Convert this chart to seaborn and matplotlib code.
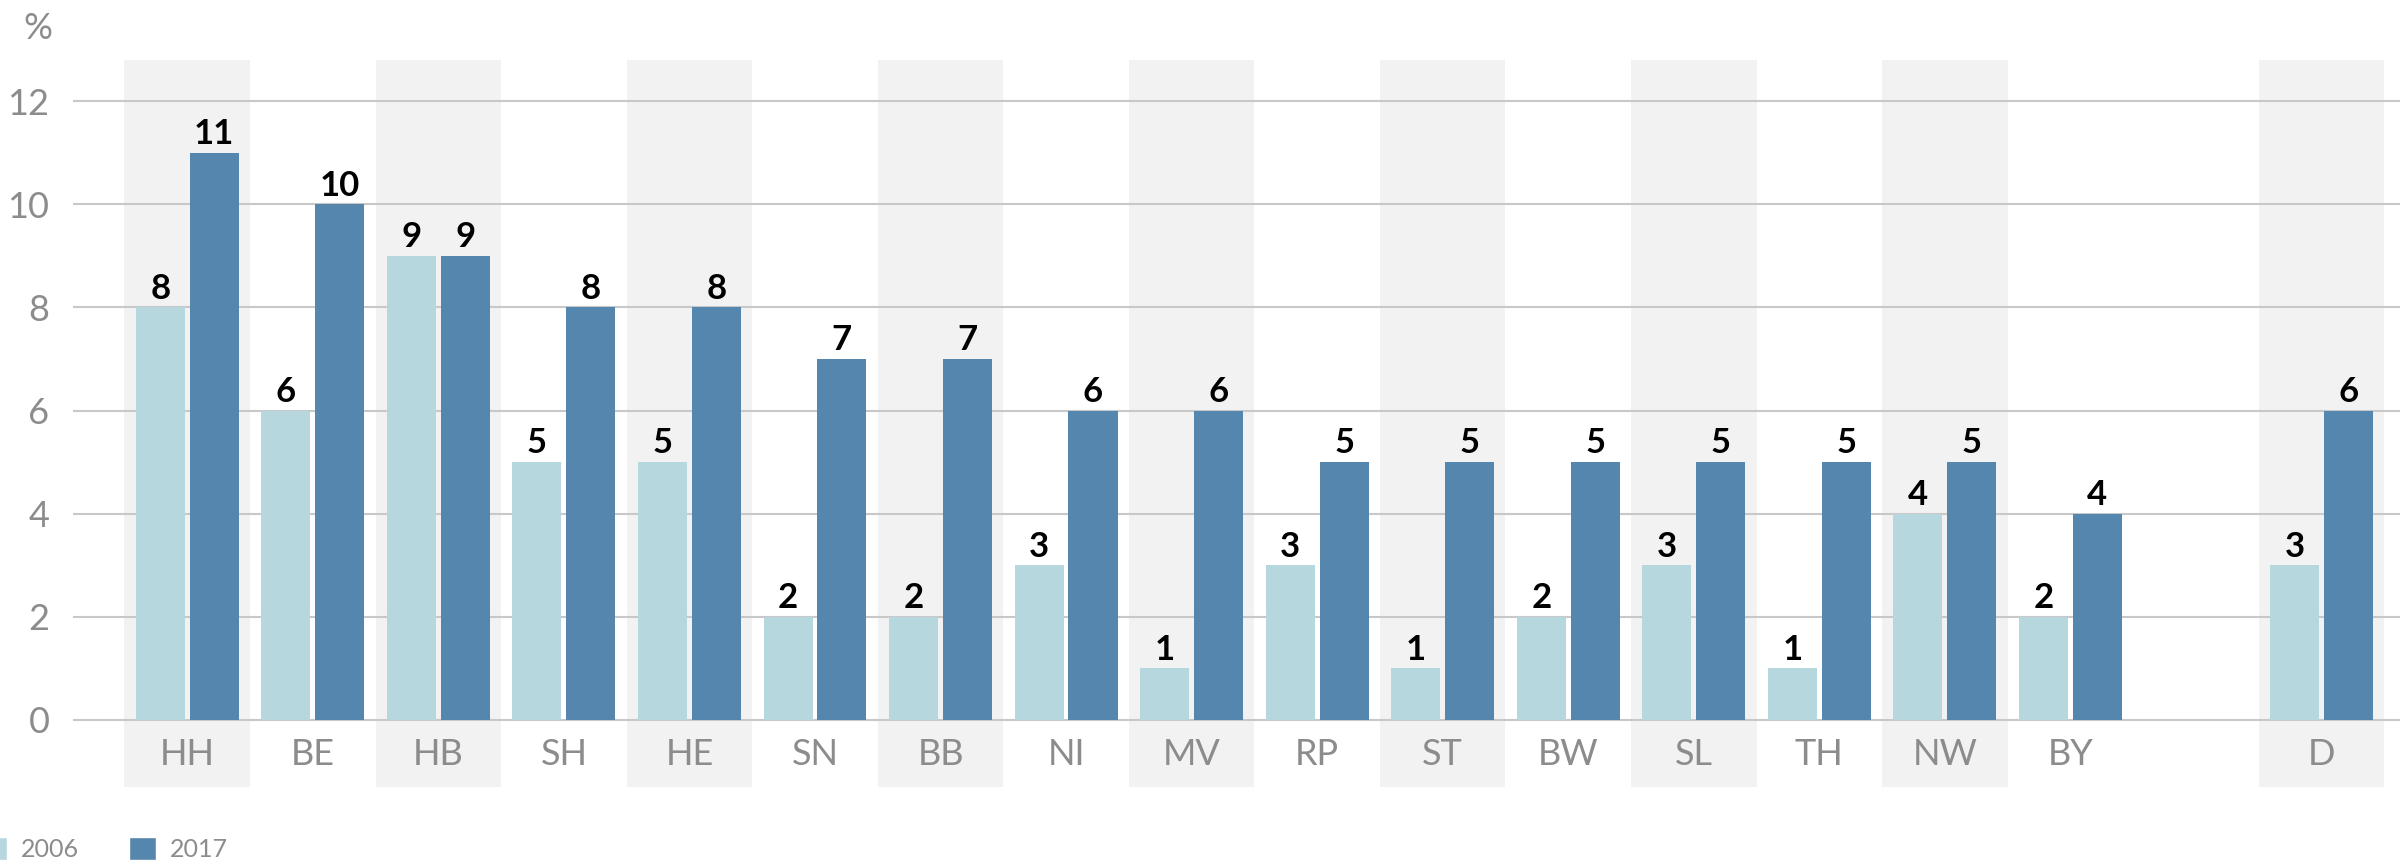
import matplotlib
matplotlib.use("Agg")
import matplotlib.pyplot as plt
import seaborn as sns
import pandas as pd
from matplotlib.patches import Patch

# Daten
laender = ["HH", "BE", "HB", "SH", "HE", "SN", "BB", "NI", "MV", "RP",
           "ST", "BW", "SL", "TH", "NW", "BY", "D"]
werte_2006 = [8, 6, 9, 5, 5, 2, 2, 3, 1, 3, 1, 2, 3, 1, 4, 2, 3]
werte_2017 = [11, 10, 9, 8, 8, 7, 7, 6, 6, 5, 5, 5, 5, 5, 5, 4, 6]
jahre = ["2006", "2017"]
schattiert = ["HH", "HB", "HE", "BB", "MV", "ST", "SL", "NW", "D"]
y_ticks = [0, 2, 4, 6, 8, 10, 12]

farben = {"2006": "#b6d7de", "2017": "#5586ad"}
grau_text = "#8c8c8c"

df = pd.DataFrame({
    "land": laender * 2,
    "jahr": ["2006"] * len(laender) + ["2017"] * len(laender),
    "wert": werte_2006 + werte_2017,
})
# leerer Platz zwischen BY und D
reihenfolge = laender[:-1] + [" "] + laender[-1:]

sns.set_theme(style="white")
plt.rcParams["font.family"] = ["Lato", "DejaVu Sans"]

fig = plt.figure(figsize=(24, 8.61), dpi=100)
ax = fig.add_axes([73 / 2400, 74 / 861, 2327 / 2400, 727 / 861])

sns.barplot(data=df, x="land", y="wert", hue="jahr", order=reihenfolge,
            hue_order=jahre, palette=farben, width=0.858, gap=0.09,
            saturation=1, legend=False, linewidth=0, ax=ax)

# graue Streifen
for i, land in enumerate(reihenfolge):
    if land in schattiert:
        ax.axvspan(i - 0.5, i + 0.5, color="#f2f2f2", lw=0, zorder=0)

ax.set_axisbelow(True)
ax.yaxis.grid(True, color="#c8c8c8", lw=1.5)
ax.xaxis.grid(False)
sns.despine(ax=ax, left=True, bottom=True)

ax.set_xlim(-0.91, 17.625)
ax.set_ylim(-1.3, 12.8)
ax.set_yticks(y_ticks)
ax.tick_params(axis="y", length=0, pad=17, labelsize=26, labelcolor=grau_text)
ax.set_xticks([])
ax.set_xlabel("")
ax.set_ylabel("")

# Länderkürzel innerhalb der Achse
for i, land in enumerate(reihenfolge):
    ax.text(i, -0.87, land, ha="center", va="baseline", fontsize=26, color=grau_text)

for c in ax.containers:
    ax.bar_label(c, padding=2, fontsize=25, fontweight="bold", color="black")

fig.text(52 / 2400, 1 - 39 / 861, "%", ha="right", va="baseline", fontsize=26, color=grau_text)

handles = [Patch(facecolor=farben[j], label=j) for j in jahre]
fig.legend(handles=handles, loc="lower left", bbox_to_anchor=(-20 / 2400, 0),
           bbox_transform=fig.transFigure, ncol=2, frameon=False, fontsize=18,
           handlelength=1.08, handleheight=1.08, handletextpad=0.56,
           columnspacing=2.0, borderpad=0, borderaxespad=0, labelcolor=grau_text)

fig.savefig("out.png", dpi=100)
